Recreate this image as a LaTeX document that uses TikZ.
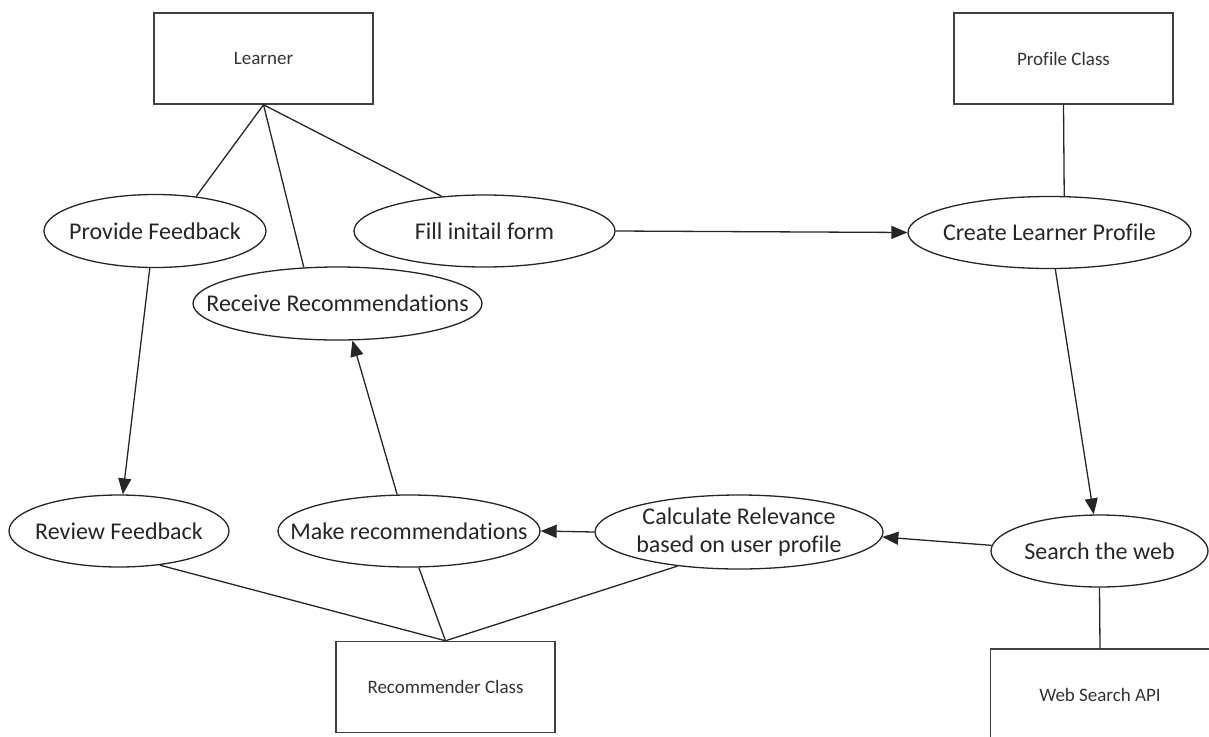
\documentclass[tikz,border=0pt]{standalone}
\usepackage{fontspec}
\setmainfont{Carlito}[Ligatures=CommonOff]
\usetikzlibrary{shapes.geometric,arrows.meta}

\tikzset{
  classbox/.style={draw=black!75, line width=1.5pt, rectangle, inner sep=0pt,
    minimum width=219pt, minimum height=91pt, text=black!80,
    font=\fontsize{19}{22}\selectfont},
  usecase/.style={draw=black!85, line width=1.3pt, ellipse, inner xsep=-40pt, inner ysep=-12pt,
    text=black!85, font=\fontsize{24}{28}\selectfont, align=center},
  assoc/.style={draw=black!85, line width=1.3pt},
  flow/.style={assoc, -{Triangle[length=16pt,width=13pt]}},
}

\begin{document}
\begin{tikzpicture}[x=1pt, y=-1pt]
\useasboundingbox (0,0) rectangle (1209,736);
\clip (0,0) rectangle (1209,736);

% actors and classes
\node[classbox] (learner)  at (263.5,58.5)  {Learner};
\node[classbox] (profile)  at (1063.5,58.5) {Profile Class};
\node[classbox] (recclass) at (445.5,687)   {Recommender Class};
\node[classbox] (webapi)   at (1100,694.5)  {Web Search API};

% use cases
\node[usecase, minimum width=222pt, minimum height=73pt] (provide) at (155,231)   {Provide Feedback};
\node[usecase, minimum width=261pt, minimum height=72pt] (fill)    at (484.5,231) {Fill initail form};
\node[usecase, minimum width=289pt, minimum height=73pt] (receive) at (337.5,303.5) {Receive Recommendations};
\node[usecase, minimum width=283pt, minimum height=72pt] (create)  at (1049.5,232.5) {Create Learner Profile};
\node[usecase, minimum width=220pt, minimum height=72pt] (review)  at (119,531)   {Review Feedback};
\node[usecase, minimum width=262pt, minimum height=72pt] (make)    at (409,531)   {Make recommendations};
\node[usecase, minimum width=288pt, minimum height=74pt] (calc)    at (739,532)   {Calculate Relevance\\based on user profile};
\node[usecase, minimum width=217pt, minimum height=72pt] (search)  at (1099.5,551) {Search the web};

% associations
\draw[assoc] (learner.south) -- (provide.40);
\draw[assoc] (learner.south) -- (receive.133);
\draw[assoc] (learner.south) -- (fill.141);
\draw[assoc] (profile.south) -- (create.68);
\draw[assoc] (recclass.north) -- (review.320);
\draw[assoc] (recclass.north) -- (make.285);
\draw[assoc] (recclass.north) -- (calc.209);
\draw[assoc] (search.south) -- (webapi.north);

% flows
\draw[flow] (fill.east) -- (create.west);
\draw[flow] (create.279) -- (search.99);
\draw[flow] (search.177) -- (calc.-2);
\draw[flow] (calc.west) -- (make.east);
\draw[flow] (make.108) -- (receive.292);
\draw[flow] (provide.262) -- (review.84);
\end{tikzpicture}
\end{document}
